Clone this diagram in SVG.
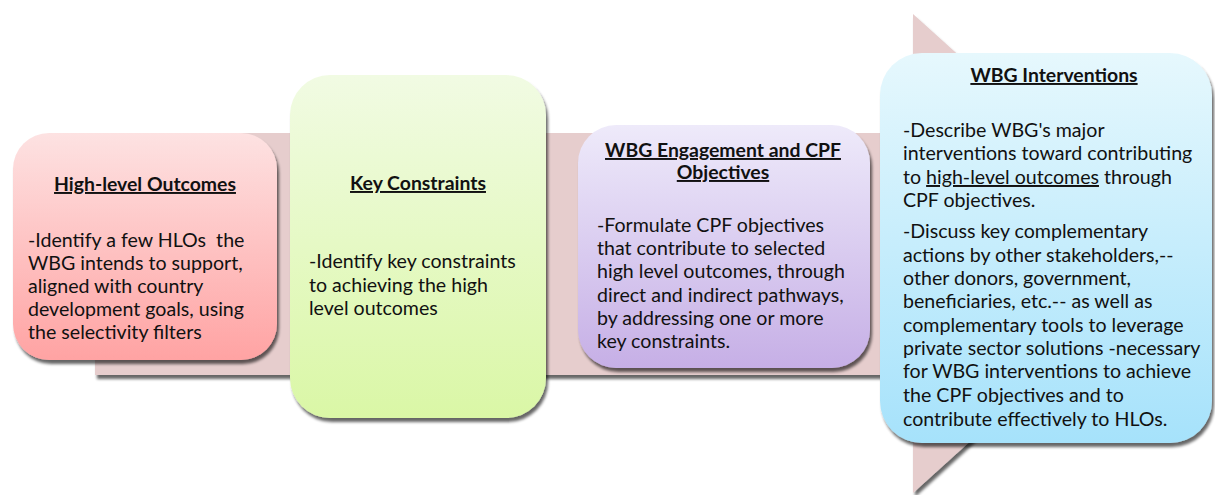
<svg xmlns="http://www.w3.org/2000/svg" width="1215" height="495" viewBox="0 0 1215 495">
<defs>
<filter id="sh" x="-10%" y="-10%" width="125%" height="125%">
<feGaussianBlur in="SourceAlpha" stdDeviation="1.6"/>
<feOffset dx="2" dy="4" result="o"/>
<feComponentTransfer><feFuncA type="linear" slope="0.6"/></feComponentTransfer>
<feMerge><feMergeNode/><feMergeNode in="SourceGraphic"/></feMerge>
</filter>
<linearGradient id="gRed" x1="0" y1="0" x2="0" y2="1"><stop offset="0" stop-color="#fde2e2"/><stop offset="1" stop-color="#ffa3a3"/></linearGradient>
<linearGradient id="gGreen" x1="0" y1="0" x2="0" y2="1"><stop offset="0" stop-color="#f1fbe3"/><stop offset="1" stop-color="#daf7a6"/></linearGradient>
<linearGradient id="gPurple" x1="0" y1="0" x2="0" y2="1"><stop offset="0" stop-color="#eeeafa"/><stop offset="1" stop-color="#c6afe6"/></linearGradient>
<linearGradient id="gBlue" x1="0" y1="0" x2="0" y2="1"><stop offset="0" stop-color="#e6f8fd"/><stop offset="1" stop-color="#a6e2fb"/></linearGradient>
</defs>
<style>
text{font-family:Lato,"Liberation Sans",sans-serif;font-size:19.6px;fill:#111}
.t{font-weight:bold;text-decoration:underline;text-anchor:middle;font-size:19.4px}
.box{filter:url(#sh)}
</style>
<g id="arrow">
<path d="M95,133 H913 V14 L1178,253 L913,493 V375 H95 Z" fill="#e6cdcd" filter="url(#sh)"/>
</g>
<g id="connectors"></g>
<g id="node-hlo">
<rect class="box" x="13" y="133" width="264" height="227" rx="36" fill="url(#gRed)"/>
<text class="t" x="145" y="191">High-level Outcomes</text>
<text x="28" y="247">-Identify a few HLOs&#160; the</text>
<text x="28" y="270">WBG intends to support,</text>
<text x="28" y="293">aligned with country</text>
<text x="28" y="316">development goals, using</text>
<text x="28" y="339">the selectivity filters</text>
</g>
<g id="node-kc">
<rect class="box" x="290" y="75" width="256" height="343" rx="40" fill="url(#gGreen)"/>
<text class="t" x="418" y="190">Key Constraints</text>
<text x="309" y="268">-Identify key constraints</text>
<text x="309" y="292">to achieving the high</text>
<text x="309" y="315">level outcomes</text>
</g>
<g id="node-cpf">
<rect class="box" x="578" y="125" width="292" height="243" rx="38" fill="url(#gPurple)"/>
<text class="t" x="723" y="157">WBG Engagement and CPF</text>
<text class="t" x="723" y="179">Objectives</text>
<text x="597" y="232">-Formulate CPF objectives</text>
<text x="597" y="255">that contribute to selected</text>
<text x="597" y="278">high level outcomes, through</text>
<text x="597" y="302">direct and indirect pathways,</text>
<text x="597" y="325">by addressing one or more</text>
<text x="597" y="348">key constraints.</text>
</g>
<g id="node-int">
<rect class="box" x="880" y="53" width="332" height="390" rx="42" fill="url(#gBlue)"/>
<text class="t" x="1054" y="82">WBG Interventions</text>
<text x="903" y="137">-Describe WBG's major</text>
<text x="903" y="160">interventions toward contributing</text>
<text x="903" y="184">to <tspan text-decoration="underline">high-level outcomes</tspan> through</text>
<text x="903" y="207">CPF objectives.</text>
<text x="903" y="238">-Discuss key complementary</text>
<text x="903" y="262">actions by other stakeholders,--</text>
<text x="903" y="285">other donors, government,</text>
<text x="903" y="308">beneficiaries, etc.-- as well as</text>
<text x="903" y="332">complementary tools to leverage</text>
<text x="903" y="355">private sector solutions -necessary</text>
<text x="903" y="378">for WBG interventions to achieve</text>
<text x="903" y="402">the CPF objectives and to</text>
<text x="903" y="426">contribute effectively to HLOs.</text>
</g>
</svg>
